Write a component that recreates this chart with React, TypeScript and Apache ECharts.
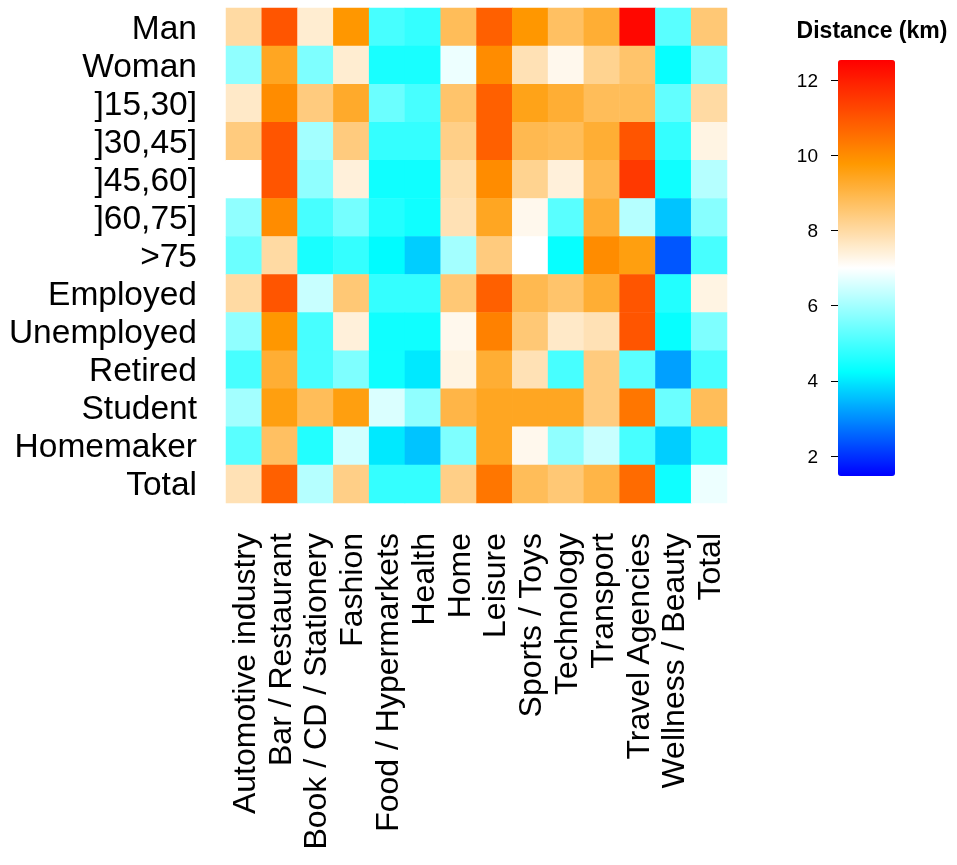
import React, { useEffect, useRef } from "react";
import * as echarts from "echarts";

const rows = ["Man", "Woman", "]15,30]", "]30,45]", "]45,60]", "]60,75]", ">75", "Employed", "Unemployed", "Retired", "Student", "Homemaker", "Total"];
const cols = ["Automotive industry", "Bar / Restaurant", "Book / CD / Stationery", "Fashion", "Food / Hypermarkets", "Health", "Home", "Leisure", "Sports / Toys", "Technology", "Transport", "Travel Agencies", "Wellness / Beauty", "Total"];
const values: number[][] = [
  [8.0, 11.0, 7.5, 9.8, 5.0, 4.8, 8.8, 10.8, 9.8, 8.7, 9.2, 12.4, 5.2, 8.5],
  [5.8, 9.4, 5.6, 7.5, 4.5, 4.5, 6.8, 10.0, 7.8, 7.2, 8.2, 8.6, 4.3, 5.6],
  [7.6, 10.0, 8.4, 9.3, 5.4, 5.0, 8.6, 10.8, 9.5, 9.2, 8.8, 8.8, 5.3, 8.0],
  [8.4, 11.0, 6.0, 8.4, 4.8, 4.8, 8.3, 10.8, 8.9, 8.8, 9.2, 11.0, 4.8, 7.3],
  [7.0, 11.0, 5.8, 7.4, 4.4, 4.4, 7.9, 10.0, 8.2, 7.4, 8.9, 11.5, 4.4, 6.2],
  [5.8, 10.0, 5.0, 5.5, 4.6, 4.4, 7.8, 9.4, 7.2, 5.2, 9.2, 6.2, 3.6, 5.7],
  [5.4, 8.0, 4.5, 4.8, 4.2, 3.7, 6.0, 8.4, 7.0, 4.3, 10.0, 9.6, 2.4, 5.0],
  [8.0, 11.0, 6.4, 8.5, 4.8, 4.8, 8.5, 10.8, 8.9, 8.6, 9.2, 11.0, 4.6, 7.3],
  [5.8, 9.8, 5.0, 7.4, 4.4, 4.4, 7.2, 10.2, 8.5, 7.6, 7.8, 11.0, 4.3, 5.6],
  [5.0, 9.2, 5.0, 5.6, 4.4, 4.0, 7.3, 9.2, 7.8, 5.0, 8.4, 5.2, 3.2, 5.0],
  [6.0, 9.6, 8.8, 9.6, 6.6, 5.8, 9.0, 9.4, 9.4, 9.4, 8.4, 10.4, 5.4, 8.8],
  [5.2, 8.7, 4.6, 6.5, 4.0, 3.6, 5.6, 9.4, 7.2, 5.8, 6.4, 5.0, 3.7, 4.8],
  [7.8, 10.8, 6.2, 8.3, 4.8, 4.8, 8.3, 10.4, 8.8, 8.5, 9.0, 10.6, 4.4, 6.8],
];
const scaleMin = 1.47;
const scaleMax = 12.53;
const palette = ["#0000FF", "#00FFFF", "#FFFFFF", "#FF9900", "#FF0000"];

export default function App() {
  const ref = useRef<HTMLDivElement>(null);
  useEffect(() => {
    const chart = echarts.init(ref.current!, undefined, { renderer: "svg" });
    const data: any[] = [];
    values.forEach((r, i) => r.forEach((v, j) => data.push([j, i, v])));
    const font = "Liberation Sans";
    chart.setOption({
      animation: false,
      textStyle: { fontFamily: font },
      title: {
        text: "Distance (km)", left: 867, top: 13, textAlign: "center",
        textStyle: { fontSize: 23, fontWeight: "bold", color: "#000", fontFamily: font },
      },
      grid: [
        { left: 226, top: 8, width: 501, height: 495 },
        { left: 838, top: 80, width: 57, height: 376 },
      ],
      xAxis: [
        {
          type: "category", data: cols, gridIndex: 0,
          axisLine: { show: false }, axisTick: { show: false },
          axisLabel: { rotate: 90, fontSize: 32, color: "#000", margin: 30, interval: 0, fontFamily: font },
        },
        { type: "value", gridIndex: 1, show: false },
      ],
      yAxis: [
        {
          type: "category", data: rows, inverse: true, gridIndex: 0,
          axisLine: { show: false }, axisTick: { show: false },
          axisLabel: { fontSize: 33.5, color: "#000", margin: 29, interval: 0, fontFamily: font },
        },
        {
          type: "value", gridIndex: 1, min: 2, max: 12, interval: 2,
          axisLine: { show: false }, splitLine: { show: false },
          axisTick: { show: true, length: 7, lineStyle: { color: "#000" } },
          axisLabel: { fontSize: 19, color: "#000", margin: 20, fontFamily: font },
        },
      ],
      visualMap: {
        type: "continuous", min: scaleMin, max: scaleMax, calculable: false,
        left: 823, top: 45, itemWidth: 57, itemHeight: 416, text: null, showLabel: false,
        inRange: { color: palette }, seriesIndex: 0,
        handleStyle: { opacity: 0 }, indicatorStyle: { opacity: 0 },
      },
      series: [
        {
          type: "heatmap", xAxisIndex: 0, yAxisIndex: 0, data,
          itemStyle: { borderWidth: 0 }, label: { show: false },
        },
      ],
    });
    return () => chart.dispose();
  }, []);
  return <div ref={ref} style={{ position: "fixed", left: 0, top: 0, width: 957, height: 865 }} />;
}
